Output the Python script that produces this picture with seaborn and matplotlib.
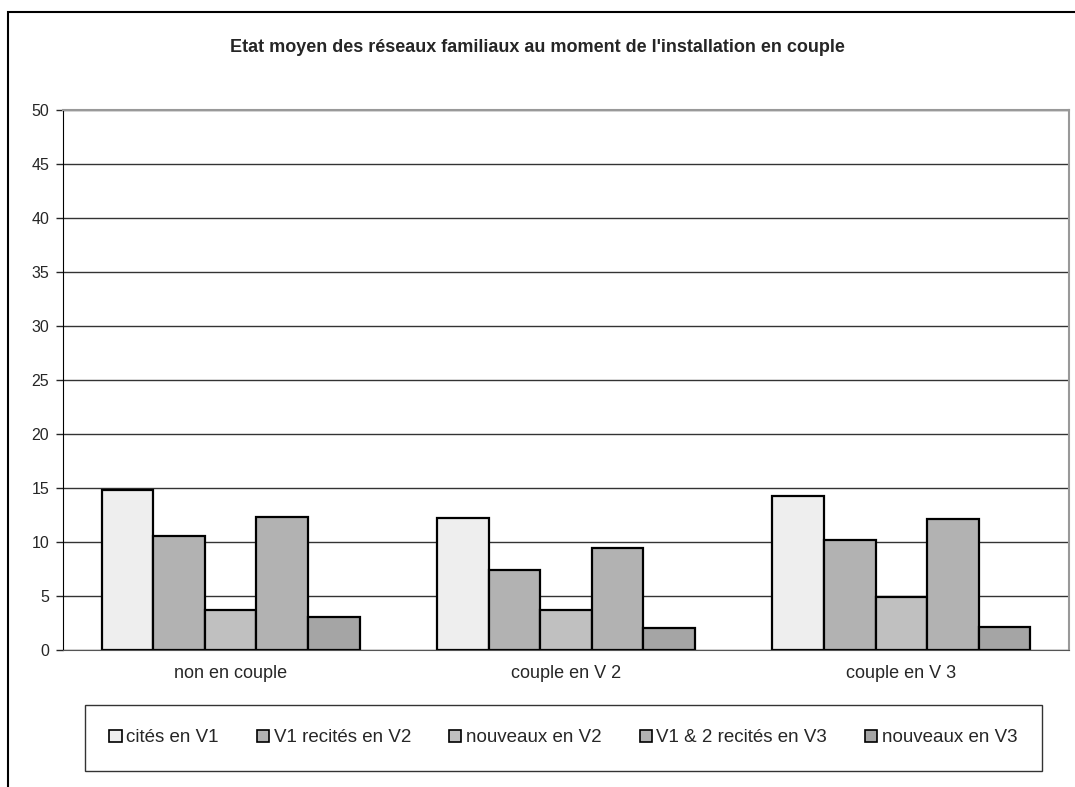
import pandas as pd
import matplotlib.pyplot as plt
import matplotlib.patches as mpatches
import seaborn as sns

# data
groups = ['non en couple', 'couple en V 2', 'couple en V 3']
series = ['cités en V1', 'V1 recités en V2', 'nouveaux en V2',
          'V1 & 2 recités en V3', 'nouveaux en V3']
cites_v1 = [14.8, 12.2, 14.3]
recites_v2 = [10.55, 7.4, 10.2]
nouveaux_v2 = [3.7, 3.7, 4.9]
recites_v3 = [12.3, 9.4, 12.1]
nouveaux_v3 = [3.1, 2.0, 2.1]
colors = ['#eeeeee', '#b2b2b2', '#c0c0c0', '#b2b2b2', '#a5a5a5']

values = [cites_v1, recites_v2, nouveaux_v2, recites_v3, nouveaux_v3]
rows = []
for name, vals in zip(series, values):
    for g, v in zip(groups, vals):
        rows.append({'groupe': g, 'serie': name, 'valeur': v})
df = pd.DataFrame(rows)

sns.set_style('white')
plt.rcParams['font.family'] = ['Liberation Sans', 'DejaVu Sans']

fig = plt.figure(figsize=(10.75, 7.87), dpi=100)
ax = fig.add_axes([63 / 1075, 1 - 650 / 787, (1069 - 63) / 1075, 540 / 787])

sns.barplot(data=df, x='groupe', y='valeur', hue='serie', order=groups,
            hue_order=series, palette=colors, width=0.77, edgecolor='black',
            linewidth=1.6, saturation=1, ax=ax, legend=False)

ax.set_ylim(0, 50)
ax.set_xlim(-0.5, 2.5)
ax.set_yticks(range(0, 51, 5))
ax.yaxis.grid(True, color='#333333', linewidth=1)
ax.set_axisbelow(True)
ax.set_xlabel('')
ax.set_ylabel('')
ax.set_xticks(range(3))
ax.set_xticklabels(groups, fontsize=13)
ax.set_xticks([-0.5, 0.5, 1.5, 2.5], minor=True)
ax.tick_params(axis='x', which='major', length=0, pad=11)
ax.tick_params(axis='x', which='minor', length=5, width=1, direction='out', color='#555555')
ax.tick_params(axis='y', length=5, width=1, direction='out', labelsize=11.5, pad=5, left=True)
for side in ['top', 'right']:
    ax.spines[side].set_color('#999999')
    ax.spines[side].set_linewidth(1.5)
ax.spines['left'].set_color('black')
ax.spines['bottom'].set_color('#555555')

fig.text(0.5, 1 - 48 / 787, "Etat moyen des réseaux familiaux au moment de l'installation en couple",
         ha='center', va='center', fontsize=13, fontweight='bold')

# outer chart frame
fig.patches.append(mpatches.Rectangle((8 / 1075, -0.1), 1.2, 1 - 12 / 787 + 0.1,
                                      transform=fig.transFigure, fill=False,
                                      edgecolor='black', linewidth=1.5))

handles = [mpatches.Patch(facecolor=c, edgecolor='black', linewidth=1.2, label=s)
           for c, s in zip(colors, series)]
leg = fig.legend(handles=handles, ncol=5, loc='center',
                 bbox_to_anchor=(85 / 1075, 1 - 773 / 787, (1042 - 85) / 1075, 70 / 787),
                 mode='expand', frameon=True, fancybox=False, fontsize=13.5,
                 handlelength=0.65, handleheight=0.65, handletextpad=0.25,
                 columnspacing=0.3, borderaxespad=0, borderpad=1.3)
leg.get_frame().set_edgecolor('black')
leg.get_frame().set_linewidth(1)

fig.savefig('out.png', dpi=100)
